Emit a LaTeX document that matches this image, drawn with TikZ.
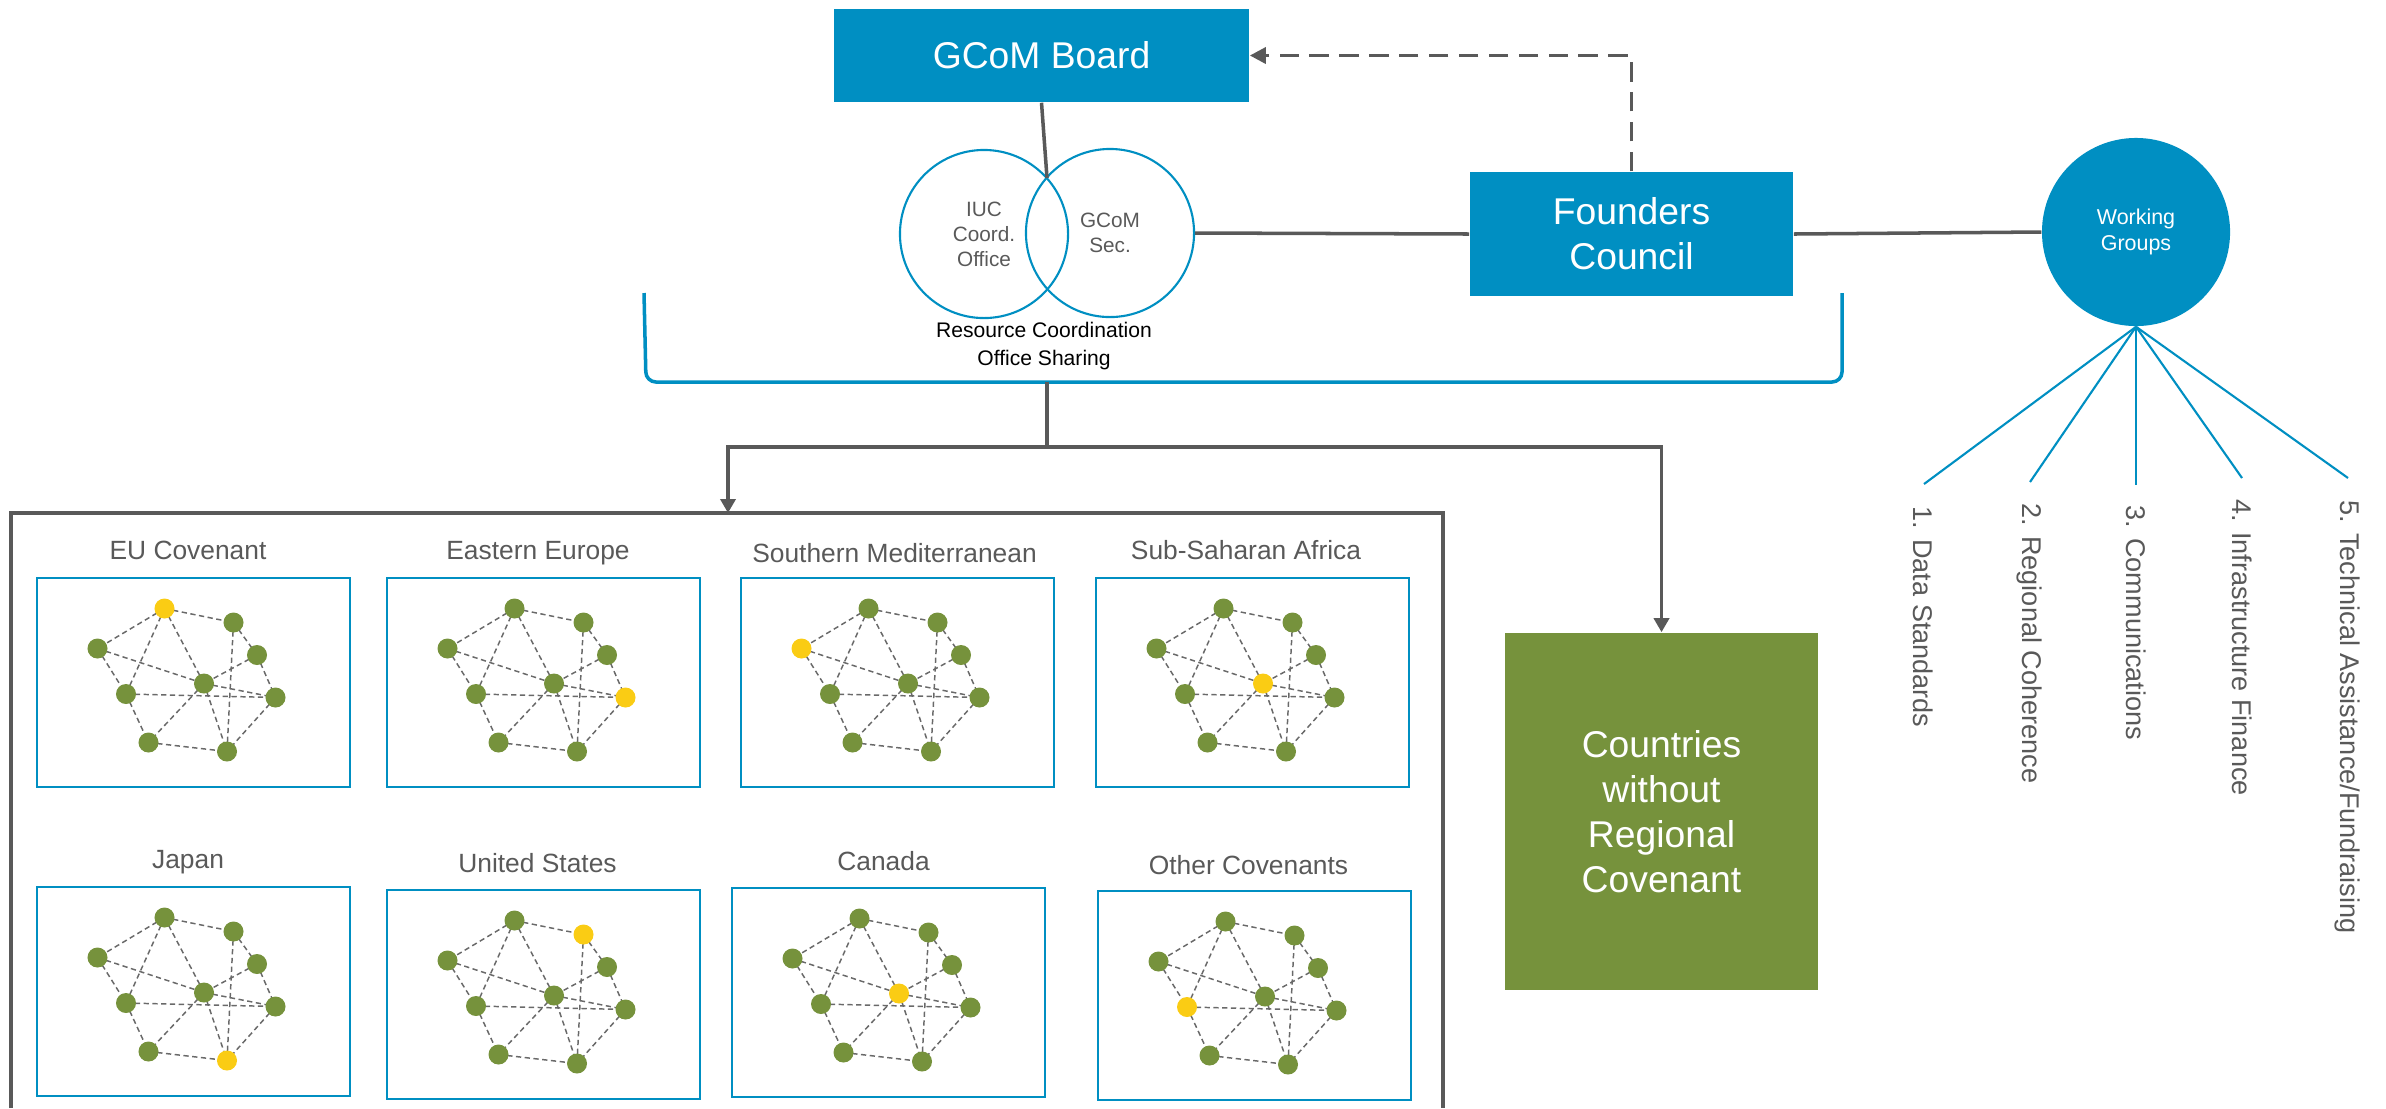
\documentclass[tikz,border=0pt]{standalone}
\usepackage{fontspec}
\setmainfont{Liberation Sans}
\usetikzlibrary{arrows.meta}
\pgfdeclarelayer{bg}
\pgfsetlayers{bg,main}
\definecolor{gcblue}{RGB}{0,143,194}
\definecolor{gcgreen}{RGB}{118,146,60}
\definecolor{gcyellow}{RGB}{250,204,20}
\definecolor{gcgray}{RGB}{89,89,89}
\definecolor{edgegray}{RGB}{105,105,105}

\tikzset{
  bluebox/.style={rectangle, fill=gcblue, text=white, inner sep=0pt, align=center,
    font=\fontsize{10.6}{12.8}\selectfont},
  greenbox/.style={rectangle, fill=gcgreen, text=white, inner sep=0pt, align=center,
    font=\fontsize{10.6}{12.8}\selectfont},
  vcircle/.style={circle, draw=gcblue, line width=0.6pt, minimum size=1.68cm, inner sep=0pt,
    text=gcgray, align=center, font=\fontsize{5.9}{7.1}\selectfont},
  wgcircle/.style={circle, fill=gcblue, minimum size=1.88cm, inner sep=0pt,
    text=white, align=center, font=\fontsize{6.1}{7.4}\selectfont},
  gline/.style={draw=gcgray, line width=1pt},
  frameline/.style={draw=gcgray, line width=1.1pt},
  dashline/.style={draw=gcgray, line width=1pt, dash pattern=on 5.5pt off 3pt},
  arrtip/.style={-{Triangle[length=0.14cm, width=0.15cm]}},
  bracketline/.style={draw=gcblue, line width=1pt, rounded corners=0.1cm},
  wgline/.style={draw=gcblue, line width=0.6pt},
  wglabel/.style={rotate=-90, anchor=west, inner sep=0pt, text=gcgray,
    font=\fontsize{7.7}{9}\selectfont},
  panelbox/.style={rectangle, draw=gcblue, line width=0.65pt, minimum width=3.13cm,
    minimum height=2.09cm, inner sep=0pt},
  panellabel/.style={anchor=base, inner sep=0pt, text=gcgray, font=\fontsize{7.5}{9}\selectfont},
  netnode/.style={circle, minimum size=0.2cm, inner sep=0pt, draw=none},
  netedge/.style={draw=edgegray, line width=0.42pt, dash pattern=on 1.5pt off 1pt}
}

\newcommand\netpanel[7]{%
  \node[panelbox] (#1-box) at ({#2+156.5},{#3+104.5}) {};
  \node[panellabel] (#1-lab) at (#6,#7) {#5};
  \foreach \i/\px/\py in {1/127.5/30.5,2/196.5/44.5,3/60.5/70.5,4/220/77,5/167/105.5,6/89/116,7/238.5/119.5,8/111.5/164.5,9/190/173.5}{%
    \ifnum\i=#4\relax\def\nc{gcyellow}\else\def\nc{gcgreen}\fi
    \node[netnode, fill=\nc] (#1-\i) at ({#2+\px},{#3+\py}) {};
  }
  \begin{pgfonlayer}{bg}
  \foreach \a/\b in {1/2,1/3,1/6,1/5,3/5,3/6,2/4,2/9,4/7,4/5,6/7,5/7,5/8,5/9,6/8,8/9,7/9}{%
    \draw[netedge] (#1-\a.center) -- (#1-\b.center);
  }
  \end{pgfonlayer}
}

\begin{document}
\begin{tikzpicture}[x=0.01cm, y=-0.01cm]
\useasboundingbox (0,0) rectangle (2386,1108);

% top boxes
\node[bluebox, minimum width=4.15cm, minimum height=0.93cm] (board) at (1041.5,55.5) {GCoM Board};
\node[bluebox, minimum width=3.23cm, minimum height=1.24cm] (founders) at (1631.5,234) {Founders\\Council};

% venn circles
\node[vcircle] (iuc) at (984,234) {IUC\\Coord.\\Office};
\node[vcircle] (sec) at (1110,233) {GCoM\\Sec.};
\node[inner sep=0pt, align=center, text=black, font=\fontsize{6}{7.7}\selectfont] (rco) at (1044,346) {Resource Coordination\\Office Sharing};
\coordinate (vtop) at (1047,178);

% working groups
\node[wgcircle] (wg) at (2136,232) {Working\\Groups};

% connectors top
\draw[gline] (board.south) -- (vtop);
\draw[gline] (sec.east) -- (founders.west);
\draw[gline] (founders.east) -- (wg.west);
\draw[dashline, -{Triangle[length=0.16cm, width=0.16cm]}] (founders.north) |- (board.east);

% working group spokes
\coordinate (e1) at (1924,484);
\coordinate (e2) at (2030,482);
\coordinate (e3) at (2136,485);
\coordinate (e4) at (2242,478);
\coordinate (e5) at (2348,478);
\foreach \k in {1,...,5}{\draw[wgline] (wg.south) -- (e\k);}
\node[wglabel] (l1) at (1923.5,506) {1. Data Standards};
\node[wglabel] (l2) at (2029.5,503) {2. Regional Coherence};
\node[wglabel] (l3) at (2136.5,505) {3. Communications};
\node[wglabel] (l4) at (2242.5,499) {4. Infrastructure Finance};
\node[wglabel] (l5) at (2347.5,500) {5. Technical Assistance/Fundraising};

% bracket
\draw[bracketline] (644,293) -- (646,382) -- (1842,382) -- (1842,293);
\coordinate (bmid) at (1047,382);
\coordinate (split) at (1047,447);
\coordinate (frametop) at (728,513);

% green box
\node[greenbox, minimum width=3.13cm, minimum height=3.57cm] (countries) at (1661.5,811.5) {Countries\\without\\Regional\\Covenant};

% tree connectors
\draw[gline] (bmid) -- (split);
\draw[gline, arrtip] (split) -| (frametop);
\draw[gline, arrtip] (split) -| (countries.north);

% big frame
\draw[frameline] (11,1108) -- (11,513) -- (1443,513) -- (1443,1108);

% panels
\netpanel{eu}{37}{578}{1}{EU Covenant}{188}{559}
\netpanel{ee}{387}{578}{7}{Eastern Europe}{538}{559}
\netpanel{sm}{741}{578}{3}{Southern Mediterranean}{894.5}{562}
\netpanel{ssa}{1096}{578}{5}{Sub-Saharan Africa}{1246}{559}
\netpanel{jp}{37}{887}{9}{Japan}{188}{868}
\netpanel{us}{387}{890}{2}{United States}{537.5}{872}
\netpanel{ca}{732}{888}{5}{Canada}{883.5}{870}
\netpanel{oc}{1098}{891}{6}{Other Covenants}{1248.5}{874}

\end{tikzpicture}
\end{document}
